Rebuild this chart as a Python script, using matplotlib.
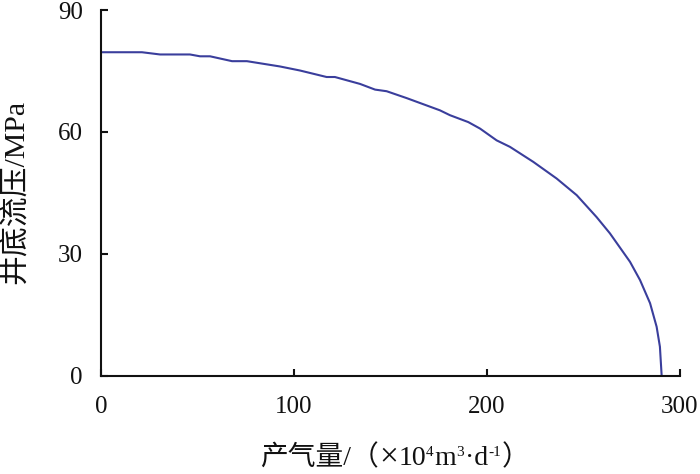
import matplotlib
matplotlib.use("Agg")
import matplotlib.pyplot as plt

# data
gas_rate = [0, 21.2, 30.6, 46.1, 51.3, 56.5, 67.9, 75.6, 92.7, 103.1, 116.9, 121.2, 134.2,
            142.0, 148.0, 158.4, 175.6, 180.8, 190.3, 196.4, 205.0, 211.9, 224.0, 236.1,
            246.5, 256.8, 263.7, 274.1, 279.3, 284.5, 287.9, 289.6, 290.5]
bhp = [79.6, 79.6, 79.05, 79.05, 78.6, 78.6, 77.4, 77.4, 76.1, 75.1, 73.5, 73.5, 71.8,
       70.4, 70.0, 68.3, 65.3, 64.1, 62.4, 60.8, 57.9, 56.3, 52.6, 48.5,
       44.4, 39.0, 35.0, 28.0, 23.5, 17.8, 12.0, 7.1, 0.0]
x_ticks = [0, 100, 200, 300]
y_ticks = [0, 30, 60, 90]
y_label = '井底流压/MPa'
# x label pieces: (text, style) where style is 'n' normal, 's' superscript, 'x' big sign
x_label_parts = [('产气量/（', 'n'), ('×', 'x'), ('10', 'n'), ('4', 's'), ('m', 'n'),
                 ('3', 's'), ('·d', 'n'), ('-1', 's'), ('）', 'n')]

fam = ['Liberation Serif', 'Noto Sans CJK SC', 'DejaVu Sans']
plt.rcParams['font.family'] = fam

W, H = 700, 474
fig = plt.figure(figsize=(W / 100, H / 100), dpi=100)
ax = fig.add_axes([0.1443, 0.2078, 0.8271, 0.7711])
ax.plot(gas_rate, bhp, color='#3a3e9c', lw=1.5)
ax.set_xlim(0, 300)
ax.set_ylim(0, 90)
ax.set_xticks(x_ticks)
ax.set_yticks(y_ticks)
for s in ['top', 'right']:
    ax.spines[s].set_visible(False)
for s in ['left', 'bottom']:
    ax.spines[s].set_linewidth(1.5)
    ax.spines[s].set_color('#111111')
ax.tick_params(direction='in', length=5, width=1.5, labelsize=18, colors='#111111')
ax.tick_params(axis='x', pad=15)
ax.tick_params(axis='y', pad=13)

fig.text(15 / W, 1 - 192 / H, y_label, rotation=90, ha='center', va='center',
         fontsize=21.5, family=fam, color='#111111')

# x label built piece by piece
renderer = fig.canvas.get_renderer()
sizes = {'n': 20, 's': 11, 'x': 24}
raise_px = {'n': 0, 's': 9, 'x': 0}
baseline_px = 465
texts = []
x = 0.0
for txt, st in x_label_parts:
    t = fig.text(0.5, 0.5, txt, fontsize=sizes[st], family=fam,
                 ha='left', va='baseline', color='#111111')
    w = t.get_window_extent(renderer).width
    texts.append((t, x, st))
    x += w + (1 if st == 's' else 0)
total = x
start = 395 - total / 2
for t, off, st in texts:
    yb = baseline_px - raise_px[st]
    t.set_position(((start + off) / W, 1 - yb / H))

fig.savefig('out.png', dpi=100)
